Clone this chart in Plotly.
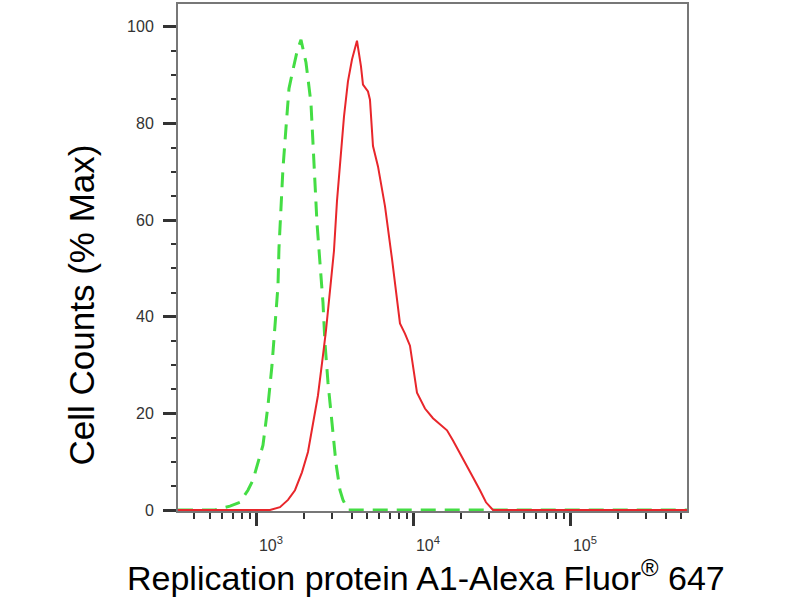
import plotly.graph_objects as go

# fluorescence intensity (channel value) and % of max
control_x = [314, 540, 598, 673, 779, 876, 943, 1015, 1092, 1175, 1246, 1302,
             1361, 1381, 1422, 1464, 1530, 1599, 1696, 1798, 1907, 1993, 2052,
             2144, 2208, 2274, 2341, 2411, 2520, 2633, 2711, 2833, 3004, 3185,
             3379, 3530, 3798, 548000]
control_y = [0, 0, 0.4, 0.8, 1.6, 4.1, 6.2, 9.9, 13.4, 21.6, 29.9, 38.1,
             46.4, 54.2, 62.5, 70.7, 79.0, 87.2, 91.1, 94.8, 97.3, 94.4, 92.6,
             87.6, 84.1, 75.9, 67.6, 59.4, 51.1, 42.9, 34.6, 26.4, 18.1, 9.7,
             4.1, 2.1, 0, 0]

sample_x = [314, 1210, 1401, 1576, 1746, 1934, 2113, 2274, 2446, 2633, 2751,
            2960, 3093, 3233, 3379, 3583, 3798, 4029, 4335, 4597, 4734, 5093,
            5245, 5482, 5899, 6536, 7242, 8143, 8762, 9430, 10450, 11750,
            13213, 14641, 16228, 17722, 19634, 21757, 23756, 26327, 28748,
            31857, 548000]
sample_y = [0, 0, 0.6, 2.1, 4.1, 7.8, 12.0, 17.5, 23.7, 32.0, 37.1,
            47.4, 53.6, 63.9, 72.2, 81.4, 88.7, 93.2, 97.1, 91.8, 88.0, 86.6,
            84.9, 75.3, 71.1, 62.9, 52.0, 38.6, 36.5, 34.0, 24.3, 21.0,
            19.0, 17.7, 16.5, 14.4, 11.8, 9.3, 6.8, 4.1, 1.6,
            0, 0]

x_tickvals = [1000, 10000, 100000]
x_ticktext = ["10<sup>3</sup>", "10<sup>4</sup>", "10<sup>5</sup>"]
x_minor = [k * 10 ** e for e in range(2, 6) for k in range(2, 10)]
y_tickvals = [0, 20, 40, 60, 80, 100]

font = "Liberation Sans, Arial, sans-serif"

fig = go.Figure()
fig.add_trace(go.Scatter(
    x=control_x, y=control_y, mode="lines",
    line=dict(color="#44dd44", width=3, dash="15px,9px"),
    showlegend=False,
))
fig.add_trace(go.Scatter(
    x=sample_x, y=sample_y, mode="lines",
    line=dict(color="#e8262b", width=2),
    showlegend=False,
))

fig.update_layout(
    width=800, height=600,
    margin=dict(l=178, r=113, t=2, b=89),
    paper_bgcolor="white", plot_bgcolor="white",
    font=dict(family=font, color="#333"),
    xaxis=dict(
        type="log", range=[2.497, 5.739],
        tickvals=x_tickvals, ticktext=x_ticktext,
        ticks="outside", ticklen=13, tickwidth=3, tickcolor="#333",
        ticklabelshift=14, ticklabelstandoff=6,
        tickfont=dict(size=16, color="#333"),
        minor=dict(tickvals=x_minor, ticks="outside", ticklen=6,
                   tickwidth=2, tickcolor="#333"),
        showline=True, linecolor="#777", linewidth=2, mirror=True,
        showgrid=False, zeroline=False,
    ),
    yaxis=dict(
        range=[-0.2, 104.7],
        tickvals=y_tickvals,
        ticks="outside", ticklen=13, tickwidth=3, tickcolor="#333",
        ticklabelstandoff=6,
        tickfont=dict(size=16, color="#333"),
        minor=dict(dtick=5, ticks="outside", ticklen=5, tickwidth=2,
                   tickcolor="#333"),
        showline=True, linecolor="#777", linewidth=2, mirror=True,
        showgrid=False, zeroline=False,
    ),
    annotations=[
        dict(text="Cell Counts (% Max)", textangle=-90,
             xref="paper", yref="paper", x=-0.19, y=0.406,
             xanchor="center", yanchor="middle", showarrow=False,
             font=dict(size=35, color="black", family=font)),
        dict(text="Replication protein A1-Alexa Fluor<sup>®</sup> 647",
             xref="paper", yref="paper", x=0.487, y=-0.128,
             xanchor="center", yanchor="middle", showarrow=False,
             font=dict(size=34, color="black", family=font)),
    ],
)

fig.write_html("out.html", config={"displayModeBar": False},
               post_script="document.body.style.margin = '0';")
